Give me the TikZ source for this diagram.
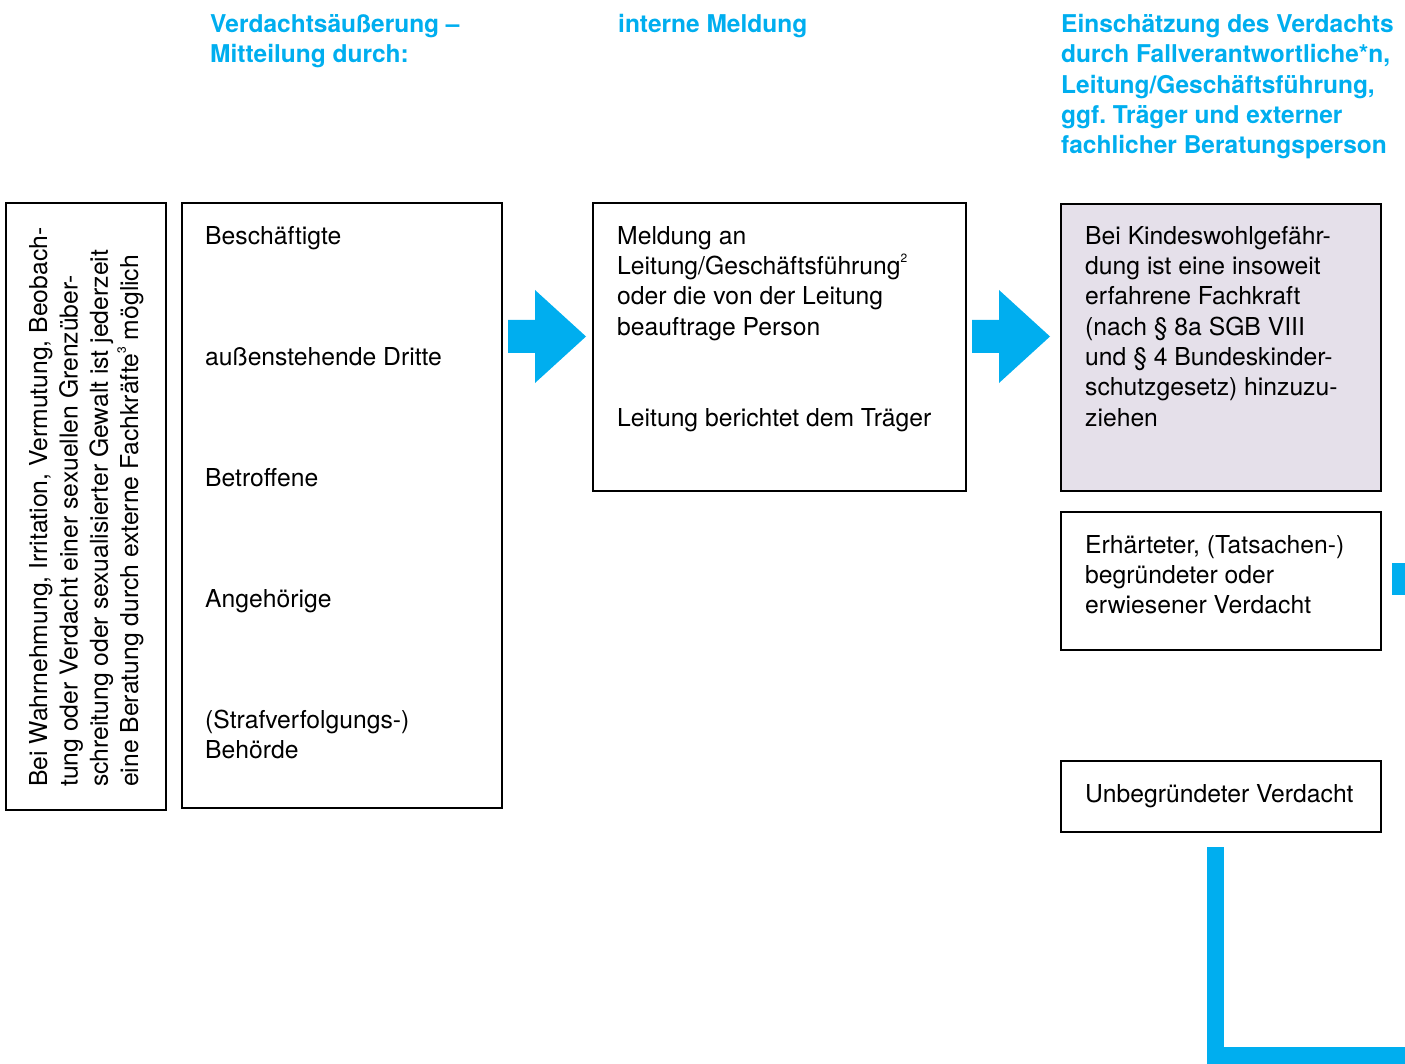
\documentclass[tikz,border=0pt]{standalone}
\usepackage{fontspec}
\setmainfont{TeX Gyre Heros}
\usetikzlibrary{positioning,calc}
\frenchspacing
\newcommand{\hoch}[1]{\raisebox{0.5em}{\fontsize{12}{12}\selectfont #1}}

\begin{document}
\begin{tikzpicture}[x=1pt,y=-1pt,line join=miter,
  box/.style={draw=black,line width=2pt,anchor=north west,inner sep=0pt,outer sep=0pt},
  txt/.style={anchor=north west,align=left,inner sep=0pt,font=\fontsize{24.7}{30.3}\selectfont},
  head/.style={txt,text=blau,font=\fontsize{24.5}{30.3}\selectfont\bfseries}]
\definecolor{blau}{RGB}{0,174,239}
\definecolor{lila}{RGB}{229,224,234}
\useasboundingbox (0,0) rectangle (1405,1064);
% column heads
\node[head] (h1) at (210,14) {Verdachtsäußerung –\\Mitteilung durch:};
\node[head] (h2) at (618,14) {interne Meldung};
\node[head] (h3) at (1061,14) {Einschätzung des Verdachts\\durch Fallverantwortliche*n,\\Leitung/Geschäftsführung,\\ggf. Träger und externer\\fachlicher Beratungsperson};
% boxes
\node[box,minimum width=160pt,minimum height=607pt] (hinweis) at (6,203) {};
\node[box,minimum width=320pt,minimum height=605pt] (quellen) at (182,203) {};
\node[box,minimum width=373pt,minimum height=288pt] (meldung) at (593,203) {};
\node[box,fill=lila,minimum width=320pt,minimum height=287pt] (kwg) at (1061,204) {};
\node[box,minimum width=320pt,minimum height=138pt] (erhaertet) at (1061,512) {};
\node[box,minimum width=320pt,minimum height=71pt] (unbeg) at (1061,761) {};
% box texts
\node[txt,rotate=90] (hinweistxt) at ($(hinweis.south west)+(23,-23)$)
  {Bei Wahrnehmung, Irritation, Vermutung, Beobach-\\tung oder Verdacht einer sexuellen Grenzüber-\\schreitung oder sexualisierter Gewalt ist jederzeit\\eine Beratung durch externe Fachkräfte\hoch{3} möglich};
\foreach \dy/\t [count=\i] in {23/Beschäftigte, 144/außenstehende Dritte, 265/Betroffene, 386/Angehörige, 507/{(Strafverfolgungs-)\\Behörde}}
  \node[txt] (q\i) at ($(quellen.north west)+(23,\dy)$) {\t};
\node[txt] (meld1) at ($(meldung.north west)+(24,23)$) {Meldung an\\Leitung/Geschäftsführung\hoch{2}\\oder die von der Leitung\\beauftrage Person};
\node[txt] (meld2) at ($(meldung.north west)+(24,205)$) {Leitung berichtet dem Träger};
\node[txt] (kwgtxt) at ($(kwg.north west)+(24,22)$) {Bei Kindeswohlgefähr-\\dung ist eine insoweit\\erfahrene Fachkraft\\(nach § 8a SGB VIII\\und § 4 Bundeskinder-\\schutzgesetz) hinzuzu-\\ziehen};
\node[txt] (erhtxt) at ($(erhaertet.north west)+(24,23)$) {Erhärteter, (Tatsachen-)\\begründeter oder\\erwiesener Verdacht};
\node[txt] (unbegtxt) at ($(unbeg.north west)+(24,23)$) {Unbegründeter Verdacht};
% block arrows
\foreach \src in {quellen,meldung}
  \fill[blau] ($(\src.north east)+(6,117)$) -- ++(27,0) -- ++(0,-30) -- ++(51,46.5)
    -- ++(-51,46.5) -- ++(0,-30) -- ++(-27,0) -- cycle;
\fill[blau] ($(erhaertet.north east)+(11,51)$) rectangle ++(20,32);
\coordinate (lstart) at ($(unbeg.south)+(-5.5,15)$);
\draw[blau,line width=17pt] (lstart) |- ++(200,208);
\end{tikzpicture}
\end{document}
